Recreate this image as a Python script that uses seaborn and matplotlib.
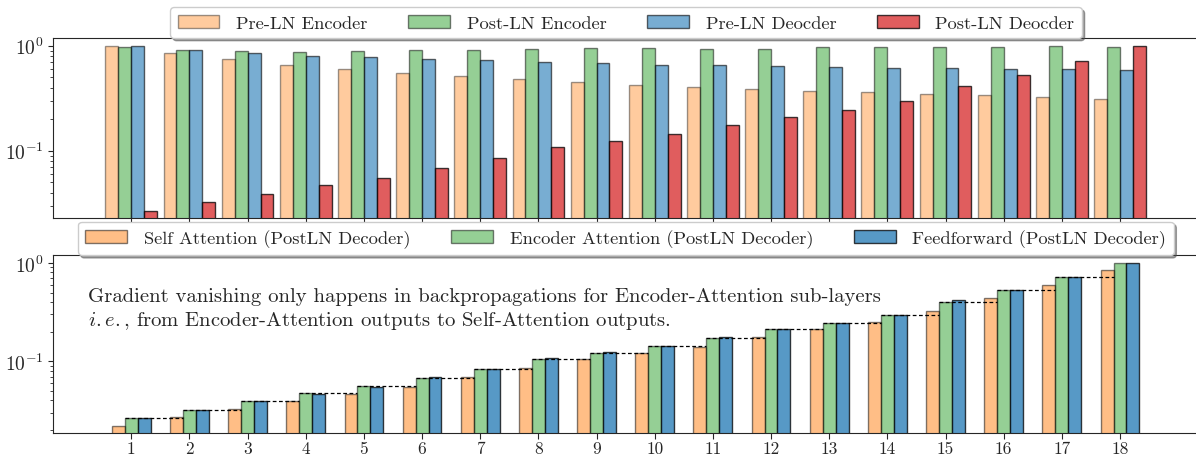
import warnings
warnings.filterwarnings("ignore")
import pandas as pd
import matplotlib
matplotlib.use("Agg")
import matplotlib.pyplot as plt
import matplotlib.ticker as mticker
import seaborn as sns

# Values (log scale, normalised gradient norms)
layers = list(range(1, 19))
top_series = ['Pre-LN Encoder', 'Post-LN Encoder', 'Pre-LN Deocder', 'Post-LN Deocder']
pre_ln_enc = [1.0, 0.845, 0.74, 0.662, 0.607, 0.555, 0.511, 0.482, 0.451, 0.425, 0.407, 0.389, 0.372, 0.359, 0.346, 0.336, 0.324, 0.314]
post_ln_enc = [0.965, 0.915, 0.883, 0.864, 0.889, 0.903, 0.903, 0.936, 0.957, 0.944, 0.936, 0.936, 0.972, 0.978, 0.978, 0.965, 1.0, 0.978]
pre_ln_dec = [1.0, 0.909, 0.845, 0.80, 0.773, 0.745, 0.724, 0.70, 0.682, 0.662, 0.652, 0.638, 0.628, 0.619, 0.614, 0.606, 0.601, 0.593]
post_ln_dec = [0.0269, 0.0326, 0.039, 0.0468, 0.055, 0.069, 0.0845, 0.1086, 0.124, 0.145, 0.175, 0.211, 0.245, 0.298, 0.416, 0.531, 0.718, 1.0]

bottom_series = ['Self Attention (PostLN Decoder)', 'Encoder Attention (PostLN Decoder)', 'Feedforward (PostLN Decoder)']
self_attn = [0.0222, 0.0270, 0.0327, 0.0392, 0.0464, 0.0542, 0.069, 0.0858, 0.1057, 0.1225, 0.1397, 0.176, 0.214, 0.250, 0.325, 0.440, 0.600, 0.844]
enc_attn = [0.0268, 0.0323, 0.0392, 0.0472, 0.0555, 0.0669, 0.0838, 0.1057, 0.1225, 0.144, 0.171, 0.212, 0.246, 0.2985, 0.401, 0.534, 0.717, 1.0]
feedforward = [0.0268, 0.0323, 0.0392, 0.047, 0.055, 0.069, 0.0838, 0.108, 0.1245, 0.144, 0.176, 0.212, 0.246, 0.2985, 0.417, 0.534, 0.717, 1.0]

note_1 = 'Gradient vanishing only happens in backpropagations for Encoder-Attention sub-layers'
note_2 = r'$i.e.$, from Encoder-Attention outputs to Self-Attention outputs.'

sns.set_style('ticks')
plt.rcParams['font.family'] = 'serif'
plt.rcParams['font.serif'] = ['cmr10', 'DejaVu Serif']
plt.rcParams['mathtext.fontset'] = 'cm'
plt.rcParams['axes.formatter.use_mathtext'] = True
plt.rcParams['axes.unicode_minus'] = False

top_df = pd.DataFrame({'layer': layers * 4,
                       'series': sum([[s] * 18 for s in top_series], []),
                       'value': pre_ln_enc + post_ln_enc + pre_ln_dec + post_ln_dec})
bot_df = pd.DataFrame({'layer': layers * 3,
                       'series': sum([[s] * 18 for s in bottom_series], []),
                       'value': self_attn + enc_attn + feedforward})

fig = plt.figure(figsize=(11.96, 4.56), dpi=100)
ax1 = fig.add_axes([0.0446, 0.519, 0.957, 0.3947])
ax2 = fig.add_axes([0.0446, 0.0475, 0.957, 0.3918])

leg_kw = dict(loc='upper center', fontsize=13.3, handlelength=2.27, handletextpad=0.9,
              columnspacing=2.2, borderaxespad=0, bbox_transform=fig.transFigure,
              shadow=True, fancybox=True, framealpha=1)

# Top: encoder / decoder comparison
sns.barplot(data=top_df, x='layer', y='value', hue='series', hue_order=top_series,
            palette=['tab:orange', 'tab:green', 'tab:blue', 'tab:red'], saturation=1,
            width=0.89, edgecolor='black', linewidth=1, errorbar=None, legend=False, ax=ax1)
for cont, a in zip(ax1.containers, [0.4, 0.5, 0.6, 0.75]):
    for p in cont:
        p.set_alpha(a)
ax1.set_yscale('log')
ax1.set_ylim(0.0227, 1.176)
ax1.set_xlim(-1.34, 18.34)
ax1.tick_params(labelbottom=False)
ax1.legend(ax1.containers, top_series, ncol=4, bbox_to_anchor=(0.5234, 0.982), **leg_kw)

# Bottom: sub-layers of the Post-LN decoder
sns.barplot(data=bot_df, x='layer', y='value', hue='series', hue_order=bottom_series,
            palette=['tab:orange', 'tab:green', 'tab:blue'], saturation=1,
            width=0.667, edgecolor='black', linewidth=1, errorbar=None, legend=False, ax=ax2)
for cont, a in zip(ax2.containers, [0.5, 0.5, 0.75]):
    for p in cont:
        p.set_alpha(a)
ax2.set_yscale('log')
ax2.set_ylim(0.0185, 1.214)
ax2.set_xlim(-1.34, 18.34)

# dashed links: encoder-attention level of layer i carried to layer i+1
green = ax2.containers[1].patches
for i in range(len(green) - 1):
    ax2.plot([green[i].get_x(), green[i + 1].get_x()], [enc_attn[i], enc_attn[i]],
             color='black', linestyle=(0, (3, 2)), linewidth=0.9, zorder=5)

ax2.legend(ax2.containers, bottom_series, ncol=3, bbox_to_anchor=(0.5232, 0.5116), **leg_kw)
ax2.text(0.0307, 0.766, note_1, transform=ax2.transAxes, fontsize=14.9, va='center', ha='left')
ax2.text(0.0307, 0.637, note_2, transform=ax2.transAxes, fontsize=14.9, va='center', ha='left')

for ax in (ax1, ax2):
    ax.set_xlabel('')
    ax.set_ylabel('')
    ax.yaxis.set_minor_formatter(mticker.NullFormatter())
    ax.tick_params(axis='y', labelsize=14)
    ax.tick_params(axis='x', labelsize=12.5, pad=1.5, length=4)
    ax.spines['right'].set_visible(False)

fig.savefig('out.png', dpi=100)
